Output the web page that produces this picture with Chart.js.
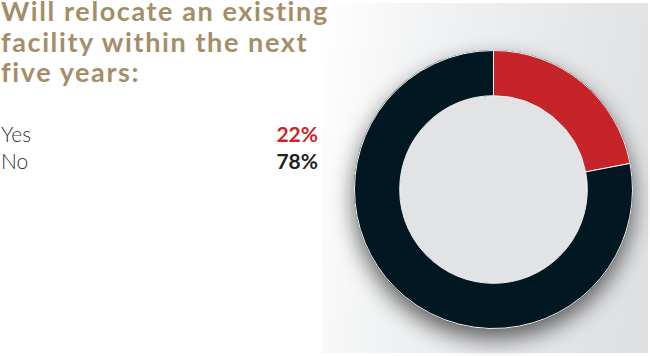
<!DOCTYPE html>
<html><head><meta charset="utf-8">
<script src="https://cdn.jsdelivr.net/npm/chart.js@4.4.1/dist/chart.umd.min.js"></script>
<style>
html,body{margin:0;padding:0;width:650px;height:356px;overflow:hidden;background:#fff;}
#panel{position:absolute;left:322px;top:3px;width:326px;height:350px;
 background:linear-gradient(100deg,#ffffff 0%,#f1f2f3 30%,#e5e6e8 70%,#dedfe1 100%);}
#cv{position:absolute;left:0;top:0;}
#title{position:absolute;left:1px;top:-4px;font-family:Lato,sans-serif;font-weight:700;font-size:27px;line-height:30.5px;color:#a48e68;letter-spacing:1.6px;}
.row{position:absolute;left:1px;width:317px;font-family:Lato,sans-serif;font-size:21px;height:27px;line-height:27px;}
.row .lab{font-weight:300;color:#333;}
.row .val{position:absolute;right:0;top:0;font-weight:700;}
</style></head>
<body>
<div id="panel"></div>
<div id="title"></div>
<div id="rows"></div>
<canvas id="cv" width="650" height="356"></canvas>
<script>
const titleLines = ['Will relocate an existing','facility within the next','five years:'];
const categories = ['Yes','No'];
const values = [22,78];
const segColors = ['#c62428','#011722'];
const textColors = ['#c8252a','#231f20'];

document.getElementById('title').innerHTML = titleLines.join('<br>');
const rows = document.getElementById('rows');
categories.forEach((c,i)=>{
  const d=document.createElement('div');d.className='row';d.style.top=(120+i*27)+'px';
  d.innerHTML='<span class="lab">'+c+'</span><span class="val" style="color:'+textColors[i]+'">'+values[i]+'%</span>';
  rows.appendChild(d);
});

const ringBg = {
  id:'ringBg',
  beforeDatasetsDraw(chart){
    const arc = chart.getDatasetMeta(0).data[0];
    if(!arc) return;
    const {x,y,outerRadius,innerRadius} = arc.getProps(['x','y','outerRadius','innerRadius'],true);
    const ctx = chart.ctx;
    ctx.save();
    ctx.shadowColor='rgba(0,0,0,0.6)';
    ctx.shadowBlur=22;
    ctx.shadowOffsetY=10;
    ctx.beginPath();ctx.arc(x,y,outerRadius+0.5,0,Math.PI*2);ctx.fillStyle='#011722';ctx.fill();
    ctx.restore();
    ctx.save();
    ctx.beginPath();ctx.arc(x,y,innerRadius,0,Math.PI*2);ctx.fillStyle='#e2e3e5';ctx.fill();
    ctx.restore();
  }
};

new Chart(document.getElementById('cv'),{
  type:'doughnut',
  data:{labels:categories,datasets:[{data:values,backgroundColor:segColors,borderColor:'#f4f4f4',borderWidth:1}]},
  options:{
    responsive:false,animation:false,cutout:'67.5%',
    layout:{padding:{left:354,right:17,top:50,bottom:27}},
    plugins:{legend:{display:false},tooltip:{enabled:false}}
  },
  plugins:[ringBg]
});
</script>
</body></html>
